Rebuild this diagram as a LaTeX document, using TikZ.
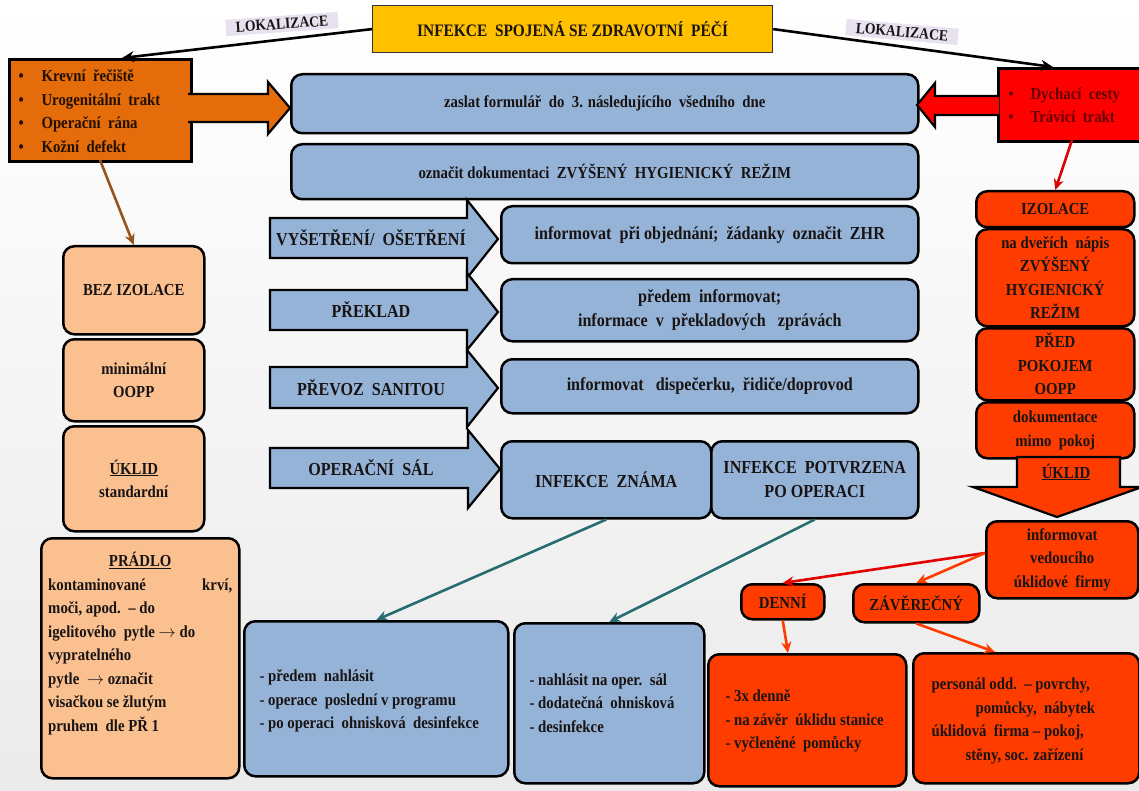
\documentclass[tikz,border=0pt]{standalone}
\usepackage{fontspec}
\setmainfont{Liberation Serif}[FakeStretch=0.88]
\usetikzlibrary{arrows.meta}
\definecolor{blueF}{RGB}{149,179,215}
\definecolor{lorange}{RGB}{250,192,144}
\definecolor{orangeF}{RGB}{228,108,10}
\definecolor{redF}{RGB}{255,0,0}
\definecolor{ored}{RGB}{255,60,0}
\definecolor{yellowF}{RGB}{255,192,0}
\definecolor{tealA}{RGB}{38,108,112}
\definecolor{brownA}{RGB}{150,85,30}
\definecolor{lav}{RGB}{232,226,240}
\definecolor{txt}{RGB}{25,20,20}
\definecolor{dred}{RGB}{100,0,0}
\newcommand{\rarr}{\ensuremath{\rightarrow}}
\begin{document}
\begin{tikzpicture}[x=1pt,y=-1pt,
  every node/.style={font=\bfseries\fontsize{16.8}{23.5}\selectfont, text=txt},
  big/.style={font=\bfseries\fontsize{18.3}{24}\selectfont},
  box/.style={draw=black, line width=2.5pt, rounded corners=11pt, align=center, inner sep=2pt, anchor=north west},
  bbox/.style={box, fill=blueF},
  obox/.style={box, fill=lorange},
  rbox/.style={box, fill=ored},
  blk/.style={draw=black, line width=2.6pt, -{Stealth[length=12pt,width=11pt]}},
  conn/.style={line width=2.6pt, -{Stealth[length=11pt,width=10pt]}},
  barrow/.style={draw=black, line width=2.2pt, line join=miter},
  lok/.style={fill=lav, inner xsep=10pt, inner ysep=3pt, font=\bfseries\fontsize{15.5}{16}\selectfont}
]
\useasboundingbox (0,0) rectangle (1139,791);
\shade[top color=white, bottom color=gray!16] (0,0) rectangle (1139,791);

% title
\node[draw=black!80, line width=1.2pt, fill=yellowF, minimum width=400pt, minimum height=47pt, anchor=north west, font=\bfseries\fontsize{17.5}{18}\selectfont] (title) at (372,5) {INFEKCE\ \ SPOJENÁ SE ZDRAVOTNÍ\ \ PÉČÍ};
\node[lok, rotate=4] (lokL) at (282,24) {LOKALIZACE};
\node[lok, rotate=-5] (lokR) at (902,32) {LOKALIZACE};

% left localisation box
\node[draw=black, line width=2.8pt, fill=orangeF, minimum width=182pt, minimum height=102pt, anchor=north west] (orL) at (8,58) {};
\node[anchor=west, align=left, text=black!85!orangeF] (orLt) at (15,111) {\makebox[23pt][l]{\textbullet}Krevní\ \ řečiště\\ \makebox[23pt][l]{\textbullet}Urogenitální\ \ trakt\\ \makebox[23pt][l]{\textbullet}Operační\ \ rána\\ \makebox[23pt][l]{\textbullet}Kožní\ \ defekt};

% right localisation box
\node[draw=black, line width=2.8pt, fill=redF, minimum width=150pt, minimum height=73pt, anchor=north west] (redR) at (997,67) {};
\node[anchor=west, align=left, text=dred] (redRt) at (1005,105) {\makebox[22pt][l]{\textbullet}Dychací\ \ cesty\\ \makebox[22pt][l]{\textbullet}Trávicí\ \ trakt};

\coordinate (aL) at (122,58);
\coordinate (aR) at (1053,67);
\draw[blk] (title.west) -- (aL);
\draw[blk] (title.east) -- (aR);

% blue top boxes
\node[bbox, minimum width=627pt, minimum height=59pt] (b1) at (290,73) {zaslat formulář\ \ do\ \ 3. následujícího\ \ všedního\ \ dne};
\node[bbox, minimum width=627pt, minimum height=55pt] (b2) at (290,143) {označit dokumentaci\ \ ZVÝŠENÝ\ \ HYGIENICKÝ\ \ REŽIM};

% block arrows into b1
\draw[barrow, fill=orangeF] (188,94) -- (268,94) -- (268,82) -- (290,108) -- (268,134) -- (268,122) -- (188,122);
\draw[barrow, fill=redF] (999,96) -- (935,96) -- (935,83) -- (917,105) -- (935,127) -- (935,115) -- (999,115);

% middle block arrows
\draw[barrow, fill=blueF] (270,218) -- (467,218) -- (467,200) -- (498,239) -- (467,278) -- (467,258) -- (270,258) -- cycle;
\draw[barrow, fill=blueF] (270,290) -- (467,290) -- (467,273) -- (498,312) -- (467,350) -- (467,330) -- (270,330) -- cycle;
\draw[barrow, fill=blueF] (270,367) -- (467,367) -- (467,350) -- (498,388) -- (467,427) -- (467,408) -- (270,408) -- cycle;
\draw[barrow, fill=blueF] (270,448) -- (468,448) -- (468,430) -- (500,469) -- (468,508) -- (468,488) -- (270,488) -- cycle;
\node[big] (vys) at (371,238) {VYŠETŘENÍ/\ \ OŠETŘENÍ};
\node[big] (prek) at (371,310) {PŘEKLAD};
\node[big] (prev) at (371,388) {PŘEVOZ\ \ SANITOU};
\node[big] (opsal) at (371,468) {OPERAČNÍ\ \ SÁL};

\node[bbox, big, minimum width=417pt, minimum height=57pt] (b3) at (500,205) {informovat\ \ při objednání;\ \ žádanky\ \ označit\ \ ZHR};
\node[bbox, big, minimum width=417pt, minimum height=62pt] (b4) at (500,278) {předem\ \ informovat;\\ informace\ \ v\ \ překladových\ \ \ zprávách};
\node[bbox, big, minimum width=417pt, minimum height=54pt] (b5) at (500,358) {informovat\ \ \ dispečerku,\ \ řidiče/doprovod};
\node[bbox, big, minimum width=210pt, minimum height=77pt] (zn) at (500,440) {INFEKCE\ \ ZNÁMA};
\node[bbox, big, minimum width=207pt, minimum height=77pt] (pot) at (710,440) {INFEKCE\ \ POTVRZENA\\ PO OPERACI};

% bottom blue
\node[bbox, minimum width=264pt, minimum height=155pt] (op1) at (243,620) {};
\node[anchor=west, align=left] (op1t) at (256,701) {- předem\ \ nahlásit\\- operace\ \ poslední v programu\\- po operaci\ \ ohnisková\ \ desinfekce};
\node[bbox, minimum width=190pt, minimum height=160pt] (op2) at (513,622) {};
\node[anchor=west, align=left] (op2t) at (526,703) {- nahlásit na oper.\ \ sál\\- dodatečná\ \ ohnisková\\- desinfekce};
\draw[conn, tealA] (zn.south) -- (op1.north);
\draw[conn, tealA] (pot.south) -- (op2.north);

% left column
\node[obox, minimum width=141pt, minimum height=88pt] (bez) at (62,245) {BEZ IZOLACE};
\node[obox, minimum width=141pt, minimum height=82pt] (mini) at (62,338) {minimální\\OOPP};
\node[obox, minimum width=141pt, minimum height=105pt] (ukl) at (62,425) {\underline{ÚKLID}\\standardní};
\node[obox, minimum width=198pt, minimum height=240pt] (prad) at (40,537) {};
\node[anchor=north west, align=left, inner sep=0pt] (pradt) at (48,552) {\makebox[184pt][c]{\underline{PRÁDLO}}\\ \makebox[184pt][s]{kontaminované\hfill krví,}\\moči, apod.\ \ – do\\igelitového\ \ pytle \rarr{} do\\vypratelného\\pytle\ \ \rarr{} označit\\visačkou se žlutým\\pruhem\ \ dle PŘ 1};
\coordinate (orLb) at (100,160);
\draw[conn, brownA] (orLb) -- (bez.north);

% right column
\node[rbox, minimum width=158pt, minimum height=36pt] (izol) at (975,190) {IZOLACE};
\node[rbox, minimum width=158pt, minimum height=97pt] (dvere) at (975,228) {na dveřích\ \ nápis\\ZVÝŠENÝ\\HYGIENICKÝ\\REŽIM};
\node[rbox, minimum width=158pt, minimum height=72pt] (pred) at (975,327) {PŘED\\POKOJEM\\OOPP};
\node[rbox, minimum width=158pt, minimum height=56pt] (dok) at (975,401) {dokumentace\\mimo\ \ pokoj};
\draw[barrow, fill=ored] (1017,457) -- (1120,457) -- (1120,487) -- (1142,487) -- (1057,517) -- (973,487) -- (1017,487) -- cycle;
\node (uklR) at (1066,472) {\underline{ÚKLID}};
\node[rbox, minimum width=152pt, minimum height=77pt] (inf) at (985,520) {informovat\\vedoucího\\úklidové\ \ firmy};
\coordinate (redRb) at (1072,140);
\draw[conn, red!85!black] (redRb) -- (izol.north);

\node[rbox, minimum width=83pt, minimum height=35pt] (denni) at (740,583) {DENNÍ};
\node[rbox, minimum width=126pt, minimum height=38pt] (zav) at (852,583) {ZÁVĚREČNÝ};
\coordinate (infL) at (985,553);
\draw[conn, red!90!black] (infL) -- (denni.north);
\draw[conn, ored] (infL) -- (zav.north);

\node[rbox, minimum width=198pt, minimum height=132pt] (d3x) at (707,653) {};
\node[anchor=west, align=left] (d3xt) at (722,721) {- 3x denně\\- na závěr\ \ úklidu stanice\\- vyčleněné\ \ pomůcky};
\node[rbox, minimum width=226pt, minimum height=130pt] (pers) at (912,652) {};
\node[anchor=west, align=left] (perst) at (928,721) {personál odd.\ \ – povrchy,\\ \hspace*{44pt}pomůcky,\ \ nábytek\\úklidová\ \ firma – pokoj,\\ \hspace*{34pt}stěny, soc. zařízení};
\coordinate (d3xin) at (788,653);
\coordinate (persin) at (995,652);
\draw[conn, ored] (denni.south) -- (d3xin);
\draw[conn, ored] (zav.south) -- (persin);
\end{tikzpicture}
\end{document}
